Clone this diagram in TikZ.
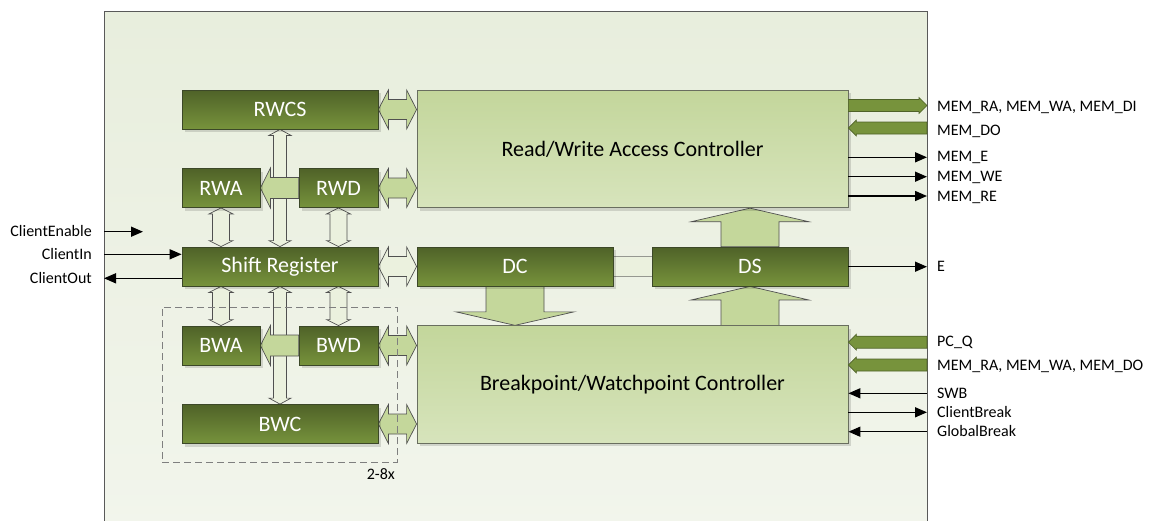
\documentclass[tikz,border=0pt]{standalone}
\usepackage{fontspec}
\setmainfont{Carlito}
\usetikzlibrary{arrows.meta,shadows,calc}
\pgfdeclarelayer{back}
\pgfdeclarelayer{mid}
\pgfsetlayers{back,mid,main}

\definecolor{panelTop}{RGB}{232,238,221}
\definecolor{panelBot}{RGB}{242,245,236}
\definecolor{panelLine}{RGB}{89,89,89}
\definecolor{blkTop}{RGB}{79,98,40}
\definecolor{blkBot}{RGB}{119,147,60}
\definecolor{blkLine}{RGB}{60,72,40}
\definecolor{ctlTop}{RGB}{195,214,155}
\definecolor{ctlBot}{RGB}{215,228,188}
\definecolor{ctlLine}{RGB}{105,110,95}
\definecolor{linkFill}{RGB}{196,215,155}
\definecolor{hollowFill}{RGB}{235,241,222}
\definecolor{edgeGray}{RGB}{80,80,80}
\definecolor{busFill}{RGB}{119,147,60}
\definecolor{busLine}{RGB}{79,98,40}
\definecolor{dashGray}{RGB}{127,127,127}
\definecolor{bandGray}{RGB}{150,152,145}

% horizontal double block arrow: style, left end, right end, head length, half head, half shaft
\newcommand\dblH[6]{\path[#1] let \p1=#2, \p2=#3 in
  (\x1,\y1) -- (\x1+#4,\y1+#5) -- (\x1+#4,\y1+#6) -- (\x2-#4,\y1+#6) -- (\x2-#4,\y1+#5)
  -- (\x2,\y1) -- (\x2-#4,\y1-#5) -- (\x2-#4,\y1-#6) -- (\x1+#4,\y1-#6) -- (\x1+#4,\y1-#5) -- cycle;}
% vertical double block arrow: style, top end, bottom end, head length, half head, half shaft
\newcommand\dblV[6]{\path[#1] let \p1=#2, \p2=#3 in
  (\x1,\y1) -- (\x1+#5,\y1-#4) -- (\x1+#6,\y1-#4) -- (\x1+#6,\y2+#4) -- (\x1+#5,\y2+#4)
  -- (\x1,\y2) -- (\x1-#5,\y2+#4) -- (\x1-#6,\y2+#4) -- (\x1-#6,\y1-#4) -- (\x1-#5,\y1-#4) -- cycle;}
% single block arrows: style, tip, tail, head length, half head, half shaft
\newcommand\sglL[6]{\path[#1] let \p1=#2, \p2=#3 in
  (\x1,\y1) -- (\x1+#4,\y1+#5) -- (\x1+#4,\y1+#6) -- (\x2,\y1+#6) -- (\x2,\y1-#6)
  -- (\x1+#4,\y1-#6) -- (\x1+#4,\y1-#5) -- cycle;}
\newcommand\sglR[6]{\path[#1] let \p1=#2, \p2=#3 in
  (\x1,\y1) -- (\x1-#4,\y1+#5) -- (\x1-#4,\y1+#6) -- (\x2,\y1+#6) -- (\x2,\y1-#6)
  -- (\x1-#4,\y1-#6) -- (\x1-#4,\y1-#5) -- cycle;}
\newcommand\sglU[6]{\path[#1] let \p1=#2, \p2=#3 in
  (\x1,\y1) -- (\x1+#5,\y1-#4) -- (\x1+#6,\y1-#4) -- (\x1+#6,\y2) -- (\x1-#6,\y2)
  -- (\x1-#6,\y1-#4) -- (\x1-#5,\y1-#4) -- cycle;}
\newcommand\sglD[6]{\path[#1] let \p1=#2, \p2=#3 in
  (\x1,\y1) -- (\x1+#5,\y1+#4) -- (\x1+#6,\y1+#4) -- (\x1+#6,\y2) -- (\x1-#6,\y2)
  -- (\x1-#6,\y1+#4) -- (\x1-#5,\y1+#4) -- cycle;}

\begin{document}
\begin{tikzpicture}[x=1pt,y=-1pt,
  shadowed/.style={drop shadow={shadow xshift=3pt,shadow yshift=-3pt,fill=black,opacity=0.13}},
  panelbox/.style={draw=panelLine,line width=0.9pt,top color=panelTop,bottom color=panelBot,
    minimum width=823pt,minimum height=520pt,inner sep=0pt},
  blk/.style={shadowed,draw=blkLine,line width=0.8pt,top color=blkTop,bottom color=blkBot,
    text=white,font=\fontsize{22}{26}\selectfont,inner sep=0pt,minimum height=39pt},
  ctl/.style={shadowed,draw=ctlLine,line width=0.8pt,top color=ctlTop,bottom color=ctlBot,
    font=\fontsize{22}{26}\selectfont,inner sep=0pt,minimum width=431pt,minimum height=117.5pt},
  link/.style={fill=linkFill,draw=edgeGray,line width=0.7pt},
  hollow/.style={fill=hollowFill,draw=edgeGray,line width=0.7pt},
  bus/.style={fill=busFill,draw=busLine,line width=0.6pt},
  sig/.style={line width=1.5pt,-{Triangle[length=12pt,width=10pt]}},
  lbl/.style={font=\fontsize{16}{19}\selectfont,inner sep=0pt},
  grpbox/.style={draw=dashGray,line width=0.9pt,dash pattern=on 7pt off 4pt,
    minimum width=235pt,minimum height=155pt,inner sep=0pt}]
\useasboundingbox (0,0) rectangle (1152,520);
\begin{pgfonlayer}{back}
  \fill[white] (0,0) rectangle (1152,520);
  \node[panelbox] (panel) at (515.5,271) {};
\end{pgfonlayer}

% functional blocks
\node[blk,minimum width=196pt] (rwcs) at (280,109.5) {RWCS};
\node[blk,minimum width=78pt] (rwa) at (221,188) {RWA};
\node[blk,minimum width=79pt] (rwd) at (338.5,188) {RWD};
\node[blk,minimum width=196pt] (sr) at (280,266.5) {Shift Register};
\node[blk,minimum width=78pt] (bwa) at (221,345.5) {BWA};
\node[blk,minimum width=79pt] (bwd) at (338.5,345.5) {BWD};
\node[blk,minimum width=196pt] (bwc) at (280,424) {BWC};
\node[blk,minimum width=196pt] (dc) at (515,266.5) {DC};
\node[blk,minimum width=196pt] (ds) at (750,266.5) {DS};
\node[ctl] (rwac) at (632.5,149) {Read/Write Access Controller};
\node[ctl] (bwctl) at (632.5,384.5) {Breakpoint/Watchpoint Controller};

\begin{pgfonlayer}{mid}
  % register file paths to and from the shift register
  \dblV{hollow}{(rwcs.south)}{(sr.north)}{6pt}{11pt}{6.5pt}
  \dblV{hollow}{(sr.south)}{(bwc.north)}{6pt}{11pt}{6.5pt}
  \dblV{hollow}{(rwa.south)}{(rwa.south |- sr.north)}{6pt}{12pt}{8.5pt}
  \dblV{hollow}{(rwd.south)}{(rwd.south |- sr.north)}{6pt}{12pt}{8.5pt}
  \dblV{hollow}{(bwa.north |- sr.south)}{(bwa.north)}{6pt}{12pt}{8.5pt}
  \dblV{hollow}{(bwd.north |- sr.south)}{(bwd.north)}{6pt}{12pt}{8.5pt}
  % data to address registers
  \sglL{link}{(rwa.east)}{(rwd.west)}{10pt}{20pt}{10.5pt}
  \sglL{link}{(bwa.east)}{(bwd.west)}{10pt}{20pt}{10.5pt}
  % registers to controllers
  \dblH{link}{(rwcs.east)}{(rwcs.east -| rwac.west)}{10pt}{19.5pt}{10pt}
  \dblH{link}{(rwd.east)}{(rwd.east -| rwac.west)}{10pt}{19.5pt}{10pt}
  \dblH{hollow}{(sr.east)}{(dc.west)}{10pt}{19.5pt}{10pt}
  \dblH{link}{(bwd.east)}{(bwd.east -| bwctl.west)}{10pt}{19.5pt}{10pt}
  \dblH{link}{(bwc.east)}{(bwc.east -| bwctl.west)}{10pt}{19.5pt}{10pt}
  % wide paths around DC and DS
  \sglU{link}{(ds.north |- rwac.south)}{(ds.north)}{13.5pt}{58.5pt}{29pt}
  \sglU{link}{(ds.south)}{(ds.south |- bwctl.north)}{13.5pt}{58.5pt}{29pt}
  \sglD{link}{(dc.south |- bwctl.north)}{(dc.south)}{13.5pt}{59pt}{29pt}
  % DC - DS band
  \fill[hollowFill] let \p1=(dc.east), \p2=(ds.west) in (\x1,\y1-10pt) rectangle (\x2,\y1+10pt);
  \draw[bandGray,line width=1.6pt] let \p1=(dc.east), \p2=(ds.west) in
    (\x1,\y1+10pt) -- (\x2,\y1+10pt) (\x1,\y1-10pt) -- (\x2,\y1-10pt);
\end{pgfonlayer}

% repeated breakpoint unit
\node[grpbox] (grp) at (279.5,384.5) {};
\node[lbl,anchor=base east] (mult) at (395,479) {2-8x};

% port ends on the panel border
\coordinate (busRW) at (927,105.5);
\coordinate (busDO) at (927,128);
\coordinate (sMemE) at (927,157.3);
\coordinate (sMemWE) at (927,176.7);
\coordinate (sMemRE) at (927,196);
\coordinate (sE) at (927,266.7);
\coordinate (busPC) at (927,342.2);
\coordinate (busBW) at (927,365);
\coordinate (sSWB) at (927,393.3);
\coordinate (sCB) at (927,412.3);
\coordinate (sGB) at (927,431.7);
\coordinate (cEnA) at (104,231.7);
\coordinate (cEnB) at (143,231.7);
\coordinate (cIn) at (104,254.3);
\coordinate (cOut) at (104,278.3);

% memory and break interfaces
\sglR{bus}{(busRW)}{(rwac.east |- busRW)}{8pt}{8pt}{6pt}
\sglL{bus}{(rwac.east |- busDO)}{(busDO)}{8pt}{8pt}{6pt}
\sglL{bus}{(bwctl.east |- busPC)}{(busPC)}{8pt}{8pt}{6pt}
\sglL{bus}{(bwctl.east |- busBW)}{(busBW)}{8pt}{8pt}{6pt}
\draw[sig] (rwac.east |- sMemE) -- (sMemE);
\draw[sig] (rwac.east |- sMemWE) -- (sMemWE);
\draw[sig] (rwac.east |- sMemRE) -- (sMemRE);
\draw[sig] (ds.east |- sE) -- (sE);
\draw[sig] (sSWB) -- (bwctl.east |- sSWB);
\draw[sig] (bwctl.east |- sCB) -- (sCB);
\draw[sig] (sGB) -- (bwctl.east |- sGB);
% client interface
\draw[sig] (cEnA) -- (cEnB);
\draw[sig] (cIn) -- (sr.west |- cIn);
\draw[sig] (sr.west |- cOut) -- (cOut);

% port labels
\node[lbl,anchor=base west] (lRW) at (937,111.7) {MEM\_RA, MEM\_WA, MEM\_DI};
\node[lbl,anchor=base west] (lDO) at (937,135) {MEM\_DO};
\node[lbl,anchor=base west] (lE1) at (937,161.7) {MEM\_E};
\node[lbl,anchor=base west] (lWE) at (937,181.7) {MEM\_WE};
\node[lbl,anchor=base west] (lRE) at (937,201) {MEM\_RE};
\node[lbl,anchor=base west] (lE) at (937,271.7) {E};
\node[lbl,anchor=base west] (lPC) at (937,346.7) {PC\_Q};
\node[lbl,anchor=base west] (lBW) at (937,370) {MEM\_RA, MEM\_WA, MEM\_DO};
\node[lbl,anchor=base west] (lSWB) at (937,398.3) {SWB};
\node[lbl,anchor=base west] (lCB) at (937,417.3) {ClientBreak};
\node[lbl,anchor=base west] (lGB) at (937,436.7) {GlobalBreak};
\node[lbl,anchor=base east] (lCE) at (92,236.7) {ClientEnable};
\node[lbl,anchor=base east] (lCI) at (92,259.3) {ClientIn};
\node[lbl,anchor=base east] (lCO) at (92,283.3) {ClientOut};
\end{tikzpicture}
\end{document}
